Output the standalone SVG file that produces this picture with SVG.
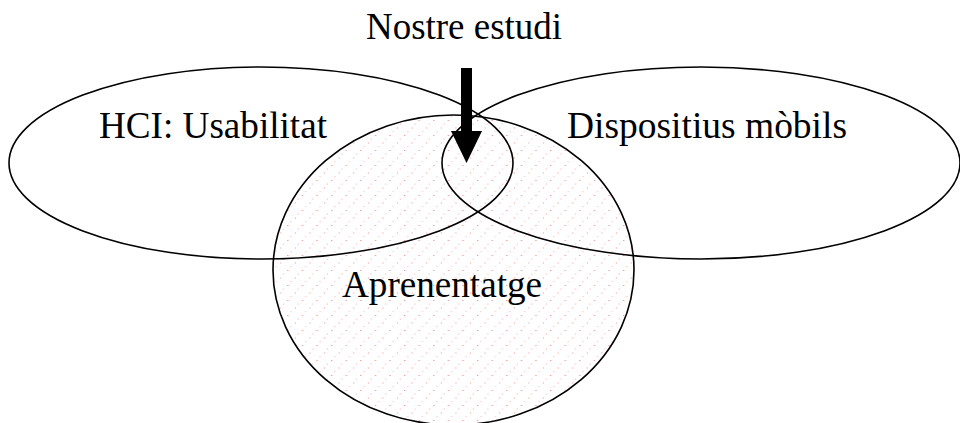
<svg xmlns="http://www.w3.org/2000/svg" width="960" height="423" viewBox="0 0 960 423">
<defs>
<pattern id="dots" width="14.6" height="15" patternUnits="userSpaceOnUse">
<rect x="10" y="0" width="1" height="1" fill="#f47070"/>
<rect x="5.5" y="3.5" width="1.2" height="1.2" fill="#fbc0c0"/>
<rect x="2.8" y="7.5" width="1" height="1" fill="#f58a8a"/>
<rect x="13" y="11" width="1.2" height="1.2" fill="#fcc8c8"/>
</pattern>
</defs>
<style>
.shape{fill:none;stroke:#000;stroke-width:1.6}
.lbl{font-family:"Liberation Serif","Times New Roman",serif;font-size:37px;fill:#000}
</style>
<rect width="960" height="423" fill="#fff"/>
<g id="aprenentatge">
<ellipse cx="453.5" cy="270" rx="180.5" ry="155" fill="url(#dots)" stroke="none"/>
</g>
<g id="hci">
<ellipse class="shape" cx="261" cy="163" rx="252" ry="96"/>
<text class="lbl" x="99" y="138" textLength="228" lengthAdjust="spacingAndGlyphs">HCI: Usabilitat</text>
</g>
<g id="dispositius">
<ellipse class="shape" cx="701" cy="163" rx="259" ry="96"/>
<text class="lbl" x="567" y="138" textLength="280" lengthAdjust="spacingAndGlyphs">Dispositius mòbils</text>
</g>
<g id="aprenentatge-outline">
<ellipse class="shape" cx="453.5" cy="270" rx="180.5" ry="155"/>
<text class="lbl" x="342" y="297" textLength="200" lengthAdjust="spacingAndGlyphs">Aprenentatge</text>
</g>
<g id="nostre-estudi">
<text class="lbl" x="366" y="39" textLength="196" lengthAdjust="spacingAndGlyphs">Nostre estudi</text>
</g>
<g id="connectors">
<rect x="461" y="68" width="11" height="64" fill="#000"/>
<polygon points="451,131 482,131 466.5,163" fill="#000"/>
</g>
</svg>
